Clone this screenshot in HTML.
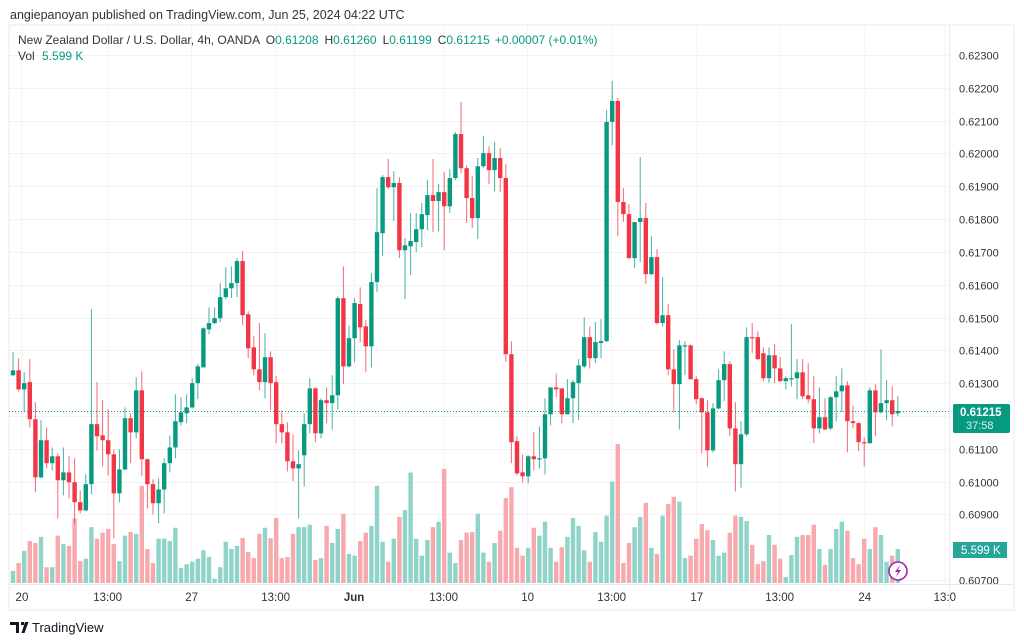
<!DOCTYPE html>
<html><head><meta charset="utf-8">
<style>
body{margin:0;background:#fff;width:1024px;height:643px;overflow:hidden;font-family:"Liberation Sans",sans-serif}
svg{display:block}
</style></head>
<body>
<svg id="chart" width="1024" height="643" xmlns="http://www.w3.org/2000/svg">
<text x="10" y="19" font-size="12.5" fill="#333">angiepanoyan published on TradingView.com, Jun 25, 2024 04:22 UTC</text>
<rect x="9" y="25" width="1005" height="585" fill="#fff" stroke="#e8e8ee"/>
<g id="grid"></g>
<g id="vol"></g>
<g id="candles"></g>
<g id="axis"></g>
<g id="taxis"></g>
<line x1="949.5" y1="25" x2="949.5" y2="610" stroke="#e8e8ee"/>
<line x1="9" y1="584.5" x2="1014" y2="584.5" stroke="#e8e8ee"/>
<text x="18" y="44" font-size="12" fill="#333">New Zealand Dollar / U.S. Dollar, 4h, OANDA <tspan dx="3">O</tspan><tspan fill="#089981">0.61208</tspan><tspan dx="6">H</tspan><tspan fill="#089981">0.61260</tspan><tspan dx="6">L</tspan><tspan fill="#089981">0.61199</tspan><tspan dx="6">C</tspan><tspan fill="#089981">0.61215</tspan><tspan dx="5" fill="#089981">+0.00007 (+0.01%)</tspan></text>
<text x="18" y="60" font-size="12" fill="#333">Vol <tspan dx="4" fill="#089981">5.599 K</tspan></text>
<rect x="953" y="404" width="57" height="29" rx="2" fill="#089981"/>
<text x="960" y="416" font-size="11.5" fill="#fff" font-weight="bold">0.61215</text>
<text x="966" y="429" font-size="11" fill="#d8f2ec">37:58</text>
<rect x="953" y="542" width="54" height="16" fill="#26a69a"/>
<text x="961" y="554" font-size="11.5" fill="#fff">5.599 K</text>
<g><circle cx="898" cy="571" r="9" fill="#fff" stroke="#9c27b0" stroke-width="1.6"/><path d="M900 565 L895 572 L898 572 L896 577 L901 570 L898 570 Z" fill="#9c27b0"/></g>
<g><path d="M10 622 h9 v11 h-3 v-8 h-6z M21 622 h3 v3 h-3z M25 622 h3.5 l-4 11 h-3z" fill="#131722"/><text x="32" y="632" font-size="13" fill="#131722">TradingView</text></g>
</svg>
<script>
const opens=[0.61324,0.61339,0.61281,0.61303,0.61190,0.61013,0.61126,0.61056,0.61077,0.61004,0.61028,0.60998,0.60937,0.60912,0.60992,0.61175,0.61141,0.61126,0.61083,0.60964,0.61037,0.61193,0.61150,0.61278,0.61068,0.60992,0.60934,0.60976,0.61056,0.61104,0.61181,0.61208,0.61226,0.61300,0.61348,0.61464,0.61483,0.61498,0.61562,0.61589,0.61605,0.61672,0.61510,0.61409,0.61342,0.61303,0.61379,0.61303,0.61175,0.61150,0.61062,0.61040,0.61080,0.61175,0.61284,0.61147,0.61248,0.61239,0.61263,0.61559,0.61351,0.61437,0.61541,0.61473,0.61412,0.61608,0.61757,0.61928,0.61897,0.61910,0.61705,0.61717,0.61730,0.61769,0.61812,0.61873,0.61855,0.61882,0.61839,0.61925,0.62059,0.61955,0.61864,0.61803,0.61961,0.62001,0.61949,0.61986,0.61925,0.61388,0.61123,0.61028,0.61016,0.61077,0.61068,0.61071,0.61205,0.61287,0.61284,0.61205,0.61254,0.61300,0.61351,0.61440,0.61376,0.61422,0.61428,0.62096,0.62160,0.61852,0.61815,0.61681,0.61791,0.61803,0.61632,0.61684,0.61483,0.61507,0.61342,0.61297,0.61412,0.61415,0.61312,0.61254,0.61211,0.61095,0.61223,0.61309,0.61358,0.61162,0.61053,0.61144,0.61440,0.61440,0.61391,0.61315,0.61385,0.61345,0.61306,0.61312,0.61315,0.61333,0.61263,0.61251,0.61162,0.61196,0.61162,0.61257,0.61275,0.61293,0.61184,0.61178,0.61120,0.61117,0.61278,0.61211,0.61239,0.61248,0.61208];
const highs=[0.61394,0.61376,0.61333,0.61373,0.61242,0.61187,0.61165,0.61104,0.61086,0.61104,0.61077,0.61071,0.60973,0.61022,0.61525,0.61303,0.61248,0.61220,0.61098,0.61098,0.61226,0.61208,0.61318,0.61336,0.61071,0.61007,0.61010,0.61071,0.61141,0.61266,0.61257,0.61266,0.61315,0.61358,0.61470,0.61531,0.61531,0.61605,0.61653,0.61656,0.61681,0.61702,0.61519,0.61443,0.61483,0.61452,0.61397,0.61321,0.61217,0.61181,0.61144,0.61095,0.61208,0.61315,0.61287,0.61254,0.61287,0.61324,0.61565,0.61656,0.61476,0.61559,0.61592,0.61492,0.61635,0.61894,0.61934,0.61983,0.61946,0.61928,0.61742,0.61818,0.61818,0.61849,0.61919,0.61983,0.61907,0.61943,0.61952,0.62065,0.62157,0.61964,0.61931,0.61986,0.62053,0.62022,0.62035,0.62016,0.61968,0.61428,0.61138,0.61083,0.61080,0.61150,0.61168,0.61254,0.61287,0.61330,0.61284,0.61312,0.61309,0.61373,0.61501,0.61473,0.61486,0.61495,0.62132,0.62221,0.62169,0.61894,0.61846,0.61791,0.61989,0.61849,0.61748,0.61708,0.61623,0.61541,0.61403,0.61431,0.61428,0.61418,0.61321,0.61256,0.61248,0.61239,0.61342,0.61397,0.61367,0.61242,0.61184,0.61470,0.61483,0.61458,0.61409,0.61409,0.61419,0.61379,0.61321,0.61480,0.61373,0.61373,0.61361,0.61321,0.61287,0.61254,0.61260,0.61321,0.61345,0.61306,0.61232,0.61181,0.61135,0.61287,0.61297,0.61403,0.61309,0.61290,0.61260];
const lows=[0.61321,0.61275,0.61214,0.61165,0.60967,0.61010,0.61040,0.61034,0.60888,0.60958,0.60949,0.60873,0.60903,0.60910,0.60961,0.61095,0.61046,0.61019,0.60827,0.60937,0.61034,0.61056,0.61132,0.61016,0.60918,0.60900,0.60873,0.60903,0.61028,0.61071,0.61171,0.61178,0.61223,0.61251,0.61348,0.61449,0.61480,0.61486,0.61556,0.61559,0.61562,0.61476,0.61376,0.61324,0.61278,0.61254,0.61217,0.61117,0.61117,0.61031,0.61001,0.60888,0.60985,0.61147,0.61120,0.61132,0.61178,0.61159,0.61220,0.61297,0.61348,0.61364,0.61425,0.61333,0.61348,0.61577,0.61687,0.61891,0.61794,0.61681,0.61556,0.61629,0.61699,0.61714,0.61766,0.61760,0.61763,0.61705,0.61818,0.61919,0.61940,0.61788,0.61772,0.61739,0.61955,0.61907,0.61885,0.61882,0.61364,0.61056,0.61019,0.60998,0.60995,0.61034,0.61040,0.61022,0.61171,0.61257,0.61178,0.61205,0.61178,0.61187,0.61345,0.61345,0.61361,0.61376,0.61425,0.62025,0.61748,0.61791,0.61678,0.61650,0.61669,0.61602,0.61629,0.61480,0.61473,0.61324,0.61211,0.61159,0.61324,0.61310,0.61236,0.61086,0.61046,0.61089,0.61220,0.61245,0.61138,0.60970,0.60982,0.61138,0.61391,0.61370,0.61306,0.61300,0.61300,0.61303,0.61281,0.61290,0.61251,0.61251,0.61239,0.61117,0.61147,0.61157,0.61157,0.61184,0.61211,0.61089,0.61162,0.61092,0.61046,0.61115,0.61138,0.61208,0.61187,0.61168,0.61199];
const closes=[0.61339,0.61281,0.61300,0.61190,0.61013,0.61126,0.61056,0.61077,0.61004,0.61028,0.60998,0.60937,0.60912,0.60992,0.61175,0.61138,0.61126,0.61083,0.60964,0.61037,0.61193,0.61150,0.61278,0.61068,0.60992,0.60934,0.60976,0.61056,0.61104,0.61184,0.61211,0.61226,0.61300,0.61351,0.61467,0.61483,0.61498,0.61562,0.61589,0.61605,0.61672,0.61507,0.61406,0.61342,0.61303,0.61379,0.61300,0.61175,0.61150,0.61062,0.61040,0.61053,0.61175,0.61284,0.61147,0.61248,0.61239,0.61263,0.61559,0.61351,0.61437,0.61544,0.61470,0.61412,0.61608,0.61760,0.61928,0.61897,0.61910,0.61705,0.61720,0.61733,0.61769,0.61815,0.61873,0.61855,0.61882,0.61839,0.61925,0.62059,0.61955,0.61864,0.61803,0.61961,0.62001,0.61949,0.61986,0.61925,0.61388,0.61120,0.61025,0.61016,0.61077,0.61068,0.61071,0.61205,0.61287,0.61281,0.61205,0.61254,0.61303,0.61354,0.61440,0.61376,0.61425,0.61428,0.62096,0.62160,0.61852,0.61815,0.61681,0.61791,0.61803,0.61632,0.61684,0.61483,0.61507,0.61342,0.61297,0.61415,0.61415,0.61312,0.61251,0.61211,0.61095,0.61223,0.61309,0.61358,0.61162,0.61053,0.61144,0.61440,0.61437,0.61373,0.61315,0.61385,0.61345,0.61306,0.61315,0.61315,0.61333,0.61260,0.61251,0.61162,0.61196,0.61159,0.61257,0.61275,0.61293,0.61184,0.61178,0.61120,0.61118,0.61278,0.61211,0.61239,0.61248,0.61205,0.61215];
const volumes=[2.0,3.3,5.3,6.9,6.6,7.6,2.6,2.6,7.8,6.4,6.1,10.6,3.6,4.0,9.2,7.3,8.3,8.9,6.4,3.6,7.8,8.4,8.1,16.0,5.6,3.3,7.3,7.3,6.9,9.1,2.5,3.1,3.5,4.0,5.4,4.3,0.7,2.6,6.8,5.6,6.1,7.4,5.1,4.1,8.1,9.1,7.4,10.7,4.1,4.3,8.1,9.2,9.2,9.6,3.8,4.1,9.4,6.6,8.9,11.4,4.8,4.5,6.9,8.3,9.4,16.0,6.8,3.5,7.3,10.9,12.0,18.2,7.3,4.5,7.1,9.2,10.1,18.8,5.0,3.3,7.1,8.3,8.4,11.4,5.0,3.5,6.6,8.6,14.0,15.8,5.8,4.5,5.8,9.1,7.8,10.1,5.8,3.5,5.9,7.6,10.7,9.4,5.4,3.5,8.4,6.8,11.1,16.7,22.9,3.3,6.6,9.2,10.9,13.2,5.8,4.8,11.1,13.0,14.2,13.4,4.1,4.5,7.3,9.7,8.7,7.1,4.5,5.0,8.3,11.1,10.9,10.2,6.3,3.1,3.6,7.9,6.3,4.0,1.0,4.6,7.6,7.9,7.9,9.6,5.6,3.0,5.6,8.9,10.1,8.6,4.1,3.1,7.3,5.6,9.2,7.9,3.5,4.5,5.599];
const priceTicks=[0.623,0.622,0.621,0.620,0.619,0.618,0.617,0.616,0.615,0.614,0.613,0.612,0.611,0.610,0.609,0.607];
const timeLabels=["20","13:00","27","13:00","Jun","13:00","10","13:00","17","13:00","24","13:0"];
const timeLabelIdx=[1.6,16.9,31.9,46.9,60.9,76.9,91.9,106.9,122.1,136.9,152.1,166.4];
const lastPrice=0.61215;

const NS="http://www.w3.org/2000/svg";
const X0=13, STEP=5.6, PLOT_R=949;
function xs(i){return X0+i*STEP;}
function ys(p){return 55+(0.623-p)*32812.5;}
function yv(v){return 583-v*6.07;}
function mk(tag,attrs,parent){const e=document.createElementNS(NS,tag);for(const k in attrs)e.setAttribute(k,attrs[k]);parent.appendChild(e);return e;}
const G=document.getElementById('grid'),V=document.getElementById('vol'),C=document.getElementById('candles'),A=document.getElementById('axis'),T=document.getElementById('taxis');

priceTicks.forEach(p=>{
  const y=Math.round(ys(p))+0.5;
  const l=mk('line',{x1:9,x2:PLOT_R,y1:y,y2:y,stroke:'#f2f2f5'},G);
  
  
  const t=mk('text',{x:959,y:y+4,'font-size':11,fill:'#333'},A);
  t.textContent=p.toFixed(5);
  
  
});
timeLabels.forEach((s,k)=>{
  const x=xs(timeLabelIdx[k]);
  const l=mk('line',{x1:x,x2:x,y1:25,y2:584,stroke:'#f2f2f5'},G);
  
  
  const t=mk('text',{x:x,y:601,'font-size':11.5,fill:'#333','text-anchor':'middle','font-weight':s==='Jun'?'bold':'normal'},T);
  t.textContent=s;
  
  
});
volumes.forEach((v,i)=>{
  const up=closes[i]>=opens[i];
  const y=yv(v);
  const r=mk('rect',{x:xs(i)-2.2,y:y,width:4.4,height:583-y,fill:up?'#8fd3c9':'#f7a9ad'},V);
  
  
});
opens.forEach((o,i)=>{
  const c=closes[i],up=c>=o,col=up?'#089981':'#f23645';
  const x=xs(i);
  const w=mk('line',{x1:x,x2:x,y1:ys(highs[i]),y2:ys(lows[i]),stroke:col,'stroke-width':1,opacity:0.75},C);
  
  
  const yt=ys(Math.max(o,c)),yb=ys(Math.min(o,c));
  const b=mk('rect',{x:x-2.2,y:yt,width:4.4,height:Math.max(1.2,yb-yt),fill:col},C);
  
  
});
const ly=Math.round(ys(lastPrice))+0.5;
const pl=mk('line',{x1:9,x2:PLOT_R,y1:ly,y2:ly,stroke:'#089981','stroke-dasharray':'1 2'},C);


</script>
</body></html>
